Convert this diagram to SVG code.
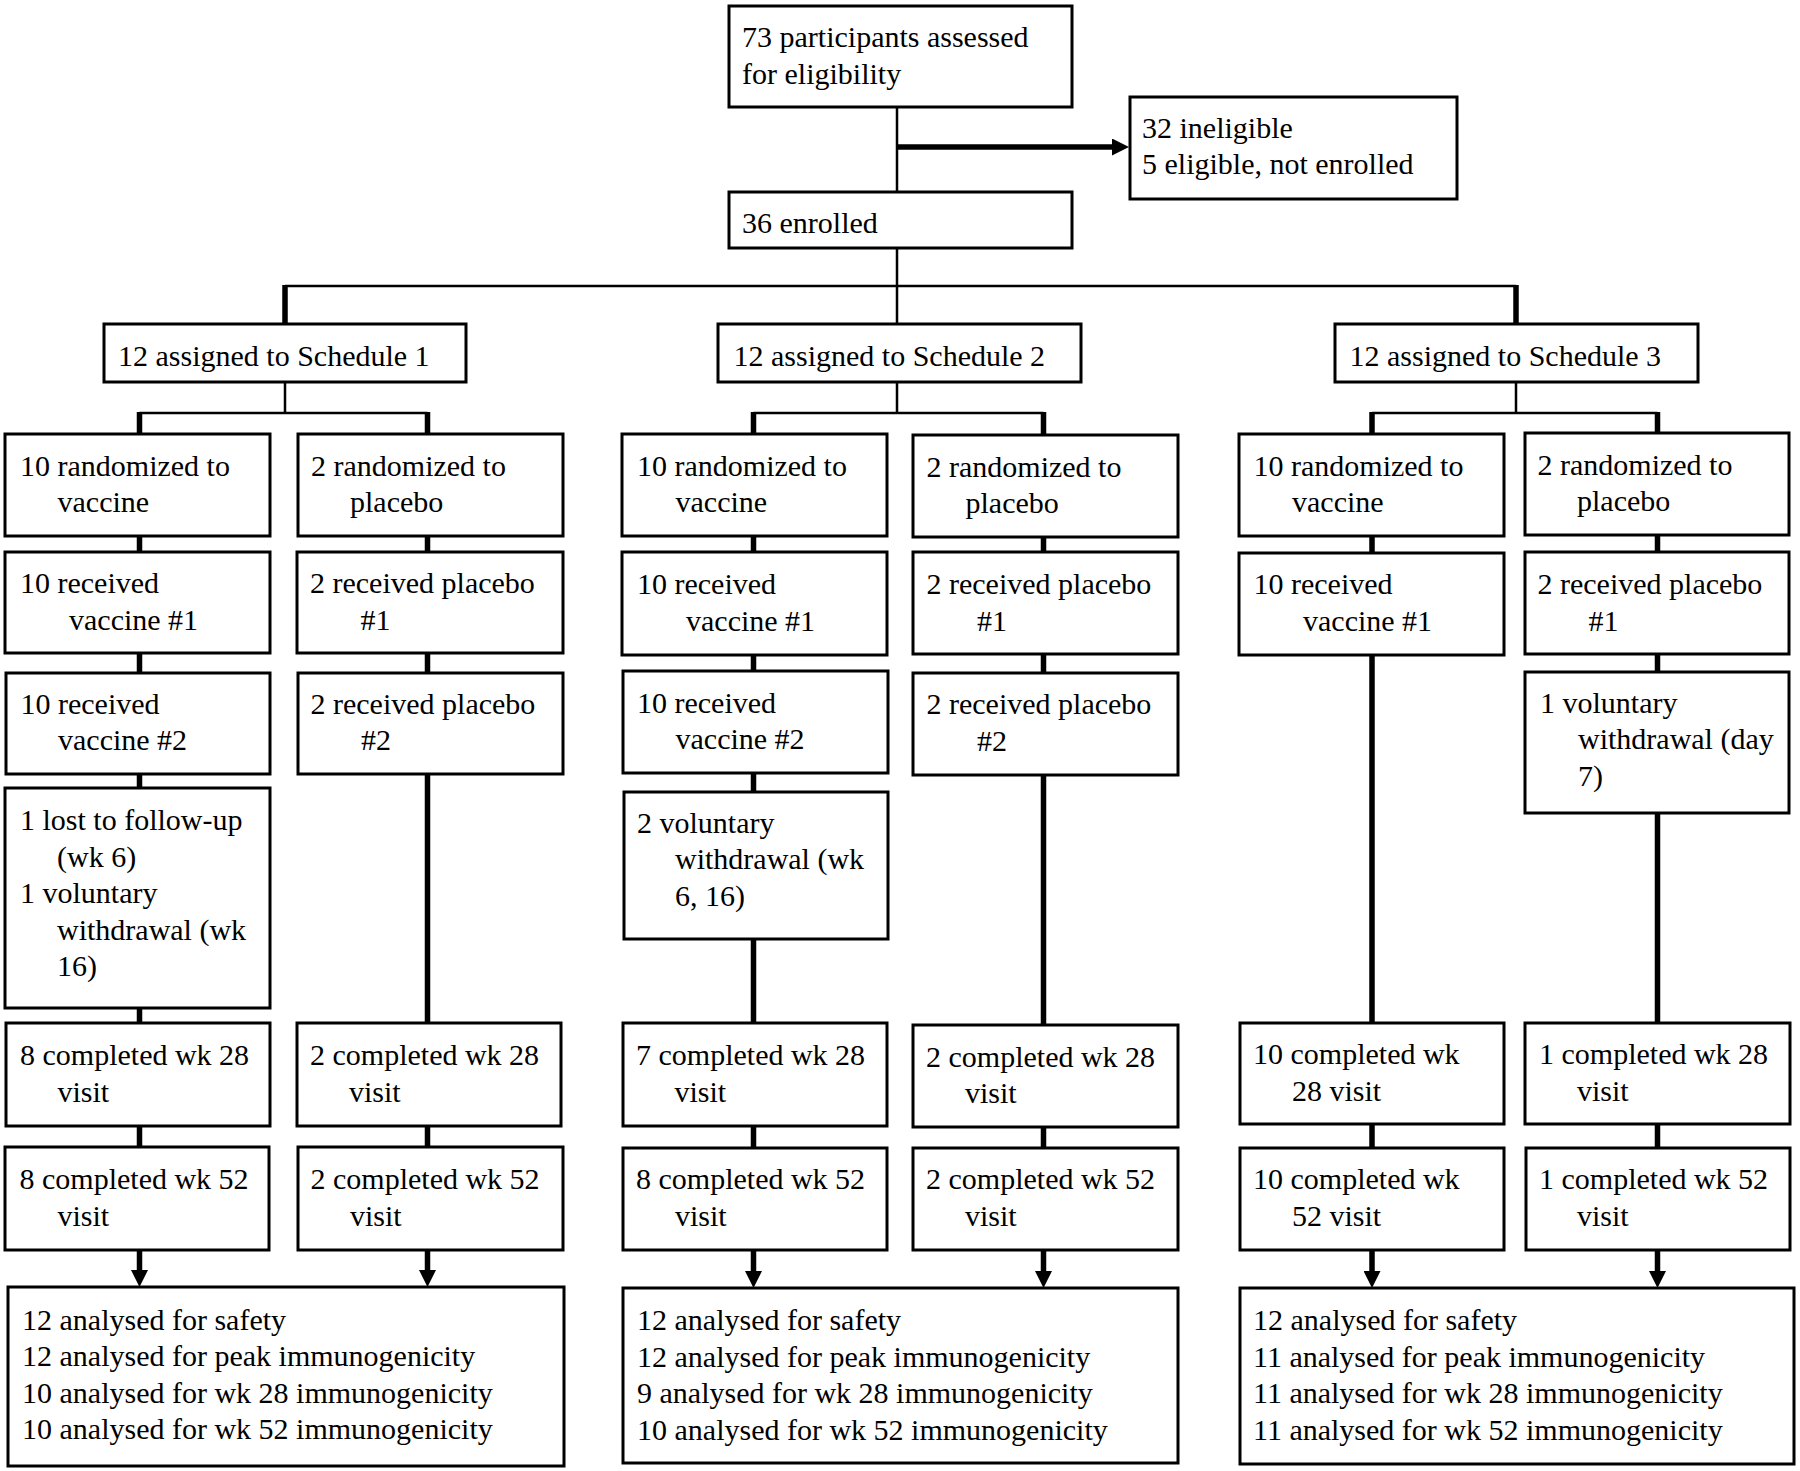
<svg xmlns="http://www.w3.org/2000/svg" width="1800" height="1471" viewBox="0 0 1800 1471">
<style>
.box{fill:#fff;stroke:#000;stroke-width:3}
.t{font-family:"Liberation Serif","Times New Roman",serif;font-size:30px;fill:#000}
.thin{stroke:#000;stroke-width:2.5;fill:none}
.thick{stroke:#000;stroke-width:5.5;fill:none}
</style>
<defs>
<marker id="ah" viewBox="0 0 17 17" refX="2" refY="8.5" markerWidth="17" markerHeight="17" markerUnits="userSpaceOnUse" orient="auto">
<path d="M0,0 L17,8.5 L0,17 z" fill="#000"/>
</marker>
</defs>
<rect width="1800" height="1471" fill="#fff"/>
<g id="connectors">
<path class="thin" d="M897,107 V192 M897,248 V324 M285,286 H1516"/>
<path class="thick" d="M897,147 H1114" marker-end="url(#ah)"/>
<path class="thick" d="M285,285 V324 M1516,285 V324"/>
<path class="thin" d="M285,382 V413 M139.5,413 H427.5 M897,382 V413 M753.5,413 H1043.5 M1516,382 V413 M1372,413 H1657.5"/>
<path class="thick" d="M139.5,412 V434 M427.5,412 V434 M753.5,412 V434 M1043.5,412 V435 M1372,412 V434 M1657.5,412 V433"/>
<path class="thick" d="M139.5,536 V552 M139.5,653 V673 M139.5,774 V788 M139.5,1008 V1023 M139.5,1126 V1147"/>
<path class="thick" d="M427.5,536 V552 M427.5,653 V673 M427.5,774 V1023 M427.5,1126 V1147"/>
<path class="thick" d="M753.5,536 V552 M753.5,655 V671 M753.5,773 V792 M753.5,939 V1023 M753.5,1126 V1148"/>
<path class="thick" d="M1043.5,537 V552 M1043.5,654 V673 M1043.5,775 V1025 M1043.5,1127 V1148"/>
<path class="thick" d="M1372,536 V553 M1372,655 V1023 M1372,1124 V1148"/>
<path class="thick" d="M1657.5,535 V552 M1657.5,654 V672 M1657.5,813 V1023 M1657.5,1124 V1148"/>
<path class="thick" d="M139.5,1250 V1272" marker-end="url(#ah)"/>
<path class="thick" d="M427.5,1250 V1272" marker-end="url(#ah)"/>
<path class="thick" d="M753.5,1250 V1273" marker-end="url(#ah)"/>
<path class="thick" d="M1043.5,1250 V1273" marker-end="url(#ah)"/>
<path class="thick" d="M1372,1250 V1273" marker-end="url(#ah)"/>
<path class="thick" d="M1657.5,1250 V1273" marker-end="url(#ah)"/>
</g>
<g id="n-assessed"><rect class="box" x="729" y="6" width="343" height="101"/><text class="t" x="742" y="47">73 participants assessed</text><text class="t" x="742" y="83.5">for eligibility</text></g>
<g id="n-ineligible"><rect class="box" x="1130" y="97" width="327" height="102"/><text class="t" x="1142" y="138">32 ineligible</text><text class="t" x="1142" y="174">5 eligible, not enrolled</text></g>
<g id="n-enrolled"><rect class="box" x="729" y="192" width="343" height="56"/><text class="t" x="742" y="233">36 enrolled</text></g>
<g id="n-s1"><rect class="box" x="104" y="324" width="362" height="58"/><text class="t" x="118" y="366">12 assigned to Schedule 1</text></g>
<g id="n-s2"><rect class="box" x="718" y="324" width="363" height="58"/><text class="t" x="733.5" y="366">12 assigned to Schedule 2</text></g>
<g id="n-s3"><rect class="box" x="1335" y="324" width="363" height="58"/><text class="t" x="1349.5" y="366">12 assigned to Schedule 3</text></g>

<g id="n-s1-vrand"><rect class="box" x="5" y="434" width="265" height="102"/><text class="t" x="20" y="475.5">10 randomized to</text><text class="t" x="57.5" y="512">vaccine</text></g>
<g id="n-s1-prand"><rect class="box" x="298" y="434" width="265" height="102"/><text class="t" x="311" y="475.5">2 randomized to</text><text class="t" x="350" y="512">placebo</text></g>
<g id="n-s1-v1"><rect class="box" x="5" y="552" width="265" height="101"/><text class="t" x="20" y="593">10 received</text><text class="t" x="69" y="630">vaccine #1</text></g>
<g id="n-s1-p1"><rect class="box" x="297" y="552" width="266" height="101"/><text class="t" x="310" y="593">2 received placebo</text><text class="t" x="360.5" y="630">#1</text></g>
<g id="n-s1-v2"><rect class="box" x="6" y="673" width="264" height="101"/><text class="t" x="20.5" y="713.5">10 received</text><text class="t" x="58" y="750">vaccine #2</text></g>
<g id="n-s1-p2"><rect class="box" x="298" y="673" width="265" height="101"/><text class="t" x="310.5" y="713.5">2 received placebo</text><text class="t" x="361" y="750">#2</text></g>
<g id="n-s1-lost"><rect class="box" x="5" y="788" width="265" height="220"/><text class="t" x="20" y="830">1 lost to follow-up</text><text class="t" x="57" y="866.5">(wk 6)</text><text class="t" x="20" y="903">1 voluntary</text><text class="t" x="57" y="939.5">withdrawal (wk</text><text class="t" x="57" y="976">16)</text></g>
<g id="n-s1-v28"><rect class="box" x="6" y="1023" width="264" height="103"/><text class="t" x="20" y="1065">8 completed wk 28</text><text class="t" x="57.5" y="1101.5">visit</text></g>
<g id="n-s1-p28"><rect class="box" x="297" y="1023" width="264" height="103"/><text class="t" x="310" y="1065">2 completed wk 28</text><text class="t" x="349" y="1101.5">visit</text></g>
<g id="n-s1-v52"><rect class="box" x="5" y="1147" width="264" height="103"/><text class="t" x="19.5" y="1189">8 completed wk 52</text><text class="t" x="57.5" y="1225.5">visit</text></g>
<g id="n-s1-p52"><rect class="box" x="298" y="1147" width="265" height="103"/><text class="t" x="310.5" y="1189">2 completed wk 52</text><text class="t" x="350" y="1225.5">visit</text></g>
<g id="n-s1-analysis"><rect class="box" x="8" y="1287" width="556" height="179"/><text class="t" x="22" y="1329.5">12 analysed for safety</text><text class="t" x="22" y="1366">12 analysed for peak immunogenicity</text><text class="t" x="22" y="1402.5">10 analysed for wk 28 immunogenicity</text><text class="t" x="22" y="1439">10 analysed for wk 52 immunogenicity</text></g>

<g id="n-s2-vrand"><rect class="box" x="622" y="434" width="265" height="102"/><text class="t" x="637" y="475.5">10 randomized to</text><text class="t" x="675.5" y="512">vaccine</text></g>
<g id="n-s2-prand"><rect class="box" x="913" y="435" width="265" height="102"/><text class="t" x="926.5" y="476.5">2 randomized to</text><text class="t" x="965.5" y="513">placebo</text></g>
<g id="n-s2-v1"><rect class="box" x="622" y="552" width="265" height="103"/><text class="t" x="637" y="594">10 received</text><text class="t" x="686" y="630.5">vaccine #1</text></g>
<g id="n-s2-p1"><rect class="box" x="913" y="552" width="265" height="102"/><text class="t" x="926.5" y="594">2 received placebo</text><text class="t" x="977" y="630.5">#1</text></g>
<g id="n-s2-v2"><rect class="box" x="623" y="671" width="265" height="102"/><text class="t" x="637" y="712.5">10 received</text><text class="t" x="675.5" y="749">vaccine #2</text></g>
<g id="n-s2-p2"><rect class="box" x="913" y="673" width="265" height="102"/><text class="t" x="926.5" y="714">2 received placebo</text><text class="t" x="977" y="750.5">#2</text></g>
<g id="n-s2-wd"><rect class="box" x="624" y="792" width="264" height="147"/><text class="t" x="637" y="832.5">2 voluntary</text><text class="t" x="675" y="869">withdrawal (wk</text><text class="t" x="675" y="905.5">6, 16)</text></g>
<g id="n-s2-v28"><rect class="box" x="623" y="1023" width="264" height="103"/><text class="t" x="636" y="1065">7 completed wk 28</text><text class="t" x="674.5" y="1101.5">visit</text></g>
<g id="n-s2-p28"><rect class="box" x="913" y="1025" width="265" height="102"/><text class="t" x="926" y="1066.5">2 completed wk 28</text><text class="t" x="965" y="1103">visit</text></g>
<g id="n-s2-v52"><rect class="box" x="623" y="1148" width="264" height="102"/><text class="t" x="636" y="1189">8 completed wk 52</text><text class="t" x="675" y="1225.5">visit</text></g>
<g id="n-s2-p52"><rect class="box" x="913" y="1148" width="265" height="102"/><text class="t" x="926" y="1189">2 completed wk 52</text><text class="t" x="965" y="1225.5">visit</text></g>
<g id="n-s2-analysis"><rect class="box" x="623" y="1288" width="555" height="175"/><text class="t" x="637" y="1330">12 analysed for safety</text><text class="t" x="637" y="1366.5">12 analysed for peak immunogenicity</text><text class="t" x="637" y="1403">9 analysed for wk 28 immunogenicity</text><text class="t" x="637" y="1439.5">10 analysed for wk 52 immunogenicity</text></g>

<g id="n-s3-vrand"><rect class="box" x="1239" y="434" width="265" height="102"/><text class="t" x="1253.5" y="475.5">10 randomized to</text><text class="t" x="1292" y="512">vaccine</text></g>
<g id="n-s3-prand"><rect class="box" x="1525" y="433" width="264" height="102"/><text class="t" x="1537.5" y="474.5">2 randomized to</text><text class="t" x="1577" y="511">placebo</text></g>
<g id="n-s3-v1"><rect class="box" x="1239" y="553" width="265" height="102"/><text class="t" x="1253.5" y="594">10 received</text><text class="t" x="1303" y="630.5">vaccine #1</text></g>
<g id="n-s3-p1"><rect class="box" x="1525" y="552" width="264" height="102"/><text class="t" x="1537.5" y="594">2 received placebo</text><text class="t" x="1588.5" y="630.5">#1</text></g>
<g id="n-s3-wd"><rect class="box" x="1525" y="672" width="264" height="141"/><text class="t" x="1540" y="712.5">1 voluntary</text><text class="t" x="1578" y="749">withdrawal (day</text><text class="t" x="1578" y="785.5">7)</text></g>
<g id="n-s3-v28"><rect class="box" x="1240" y="1023" width="264" height="101"/><text class="t" x="1253" y="1064">10 completed wk</text><text class="t" x="1292" y="1100.5">28 visit</text></g>
<g id="n-s3-p28"><rect class="box" x="1525" y="1023" width="265" height="101"/><text class="t" x="1539" y="1064">1 completed wk 28</text><text class="t" x="1577" y="1100.5">visit</text></g>
<g id="n-s3-v52"><rect class="box" x="1240" y="1148" width="264" height="102"/><text class="t" x="1253" y="1189">10 completed wk</text><text class="t" x="1292" y="1225.5">52 visit</text></g>
<g id="n-s3-p52"><rect class="box" x="1526" y="1148" width="264" height="102"/><text class="t" x="1539" y="1189">1 completed wk 52</text><text class="t" x="1577" y="1225.5">visit</text></g>
<g id="n-s3-analysis"><rect class="box" x="1240" y="1288" width="554" height="176"/><text class="t" x="1253" y="1330">12 analysed for safety</text><text class="t" x="1253" y="1366.5">11 analysed for peak immunogenicity</text><text class="t" x="1253" y="1403">11 analysed for wk 28 immunogenicity</text><text class="t" x="1253" y="1439.5">11 analysed for wk 52 immunogenicity</text></g>
</svg>
